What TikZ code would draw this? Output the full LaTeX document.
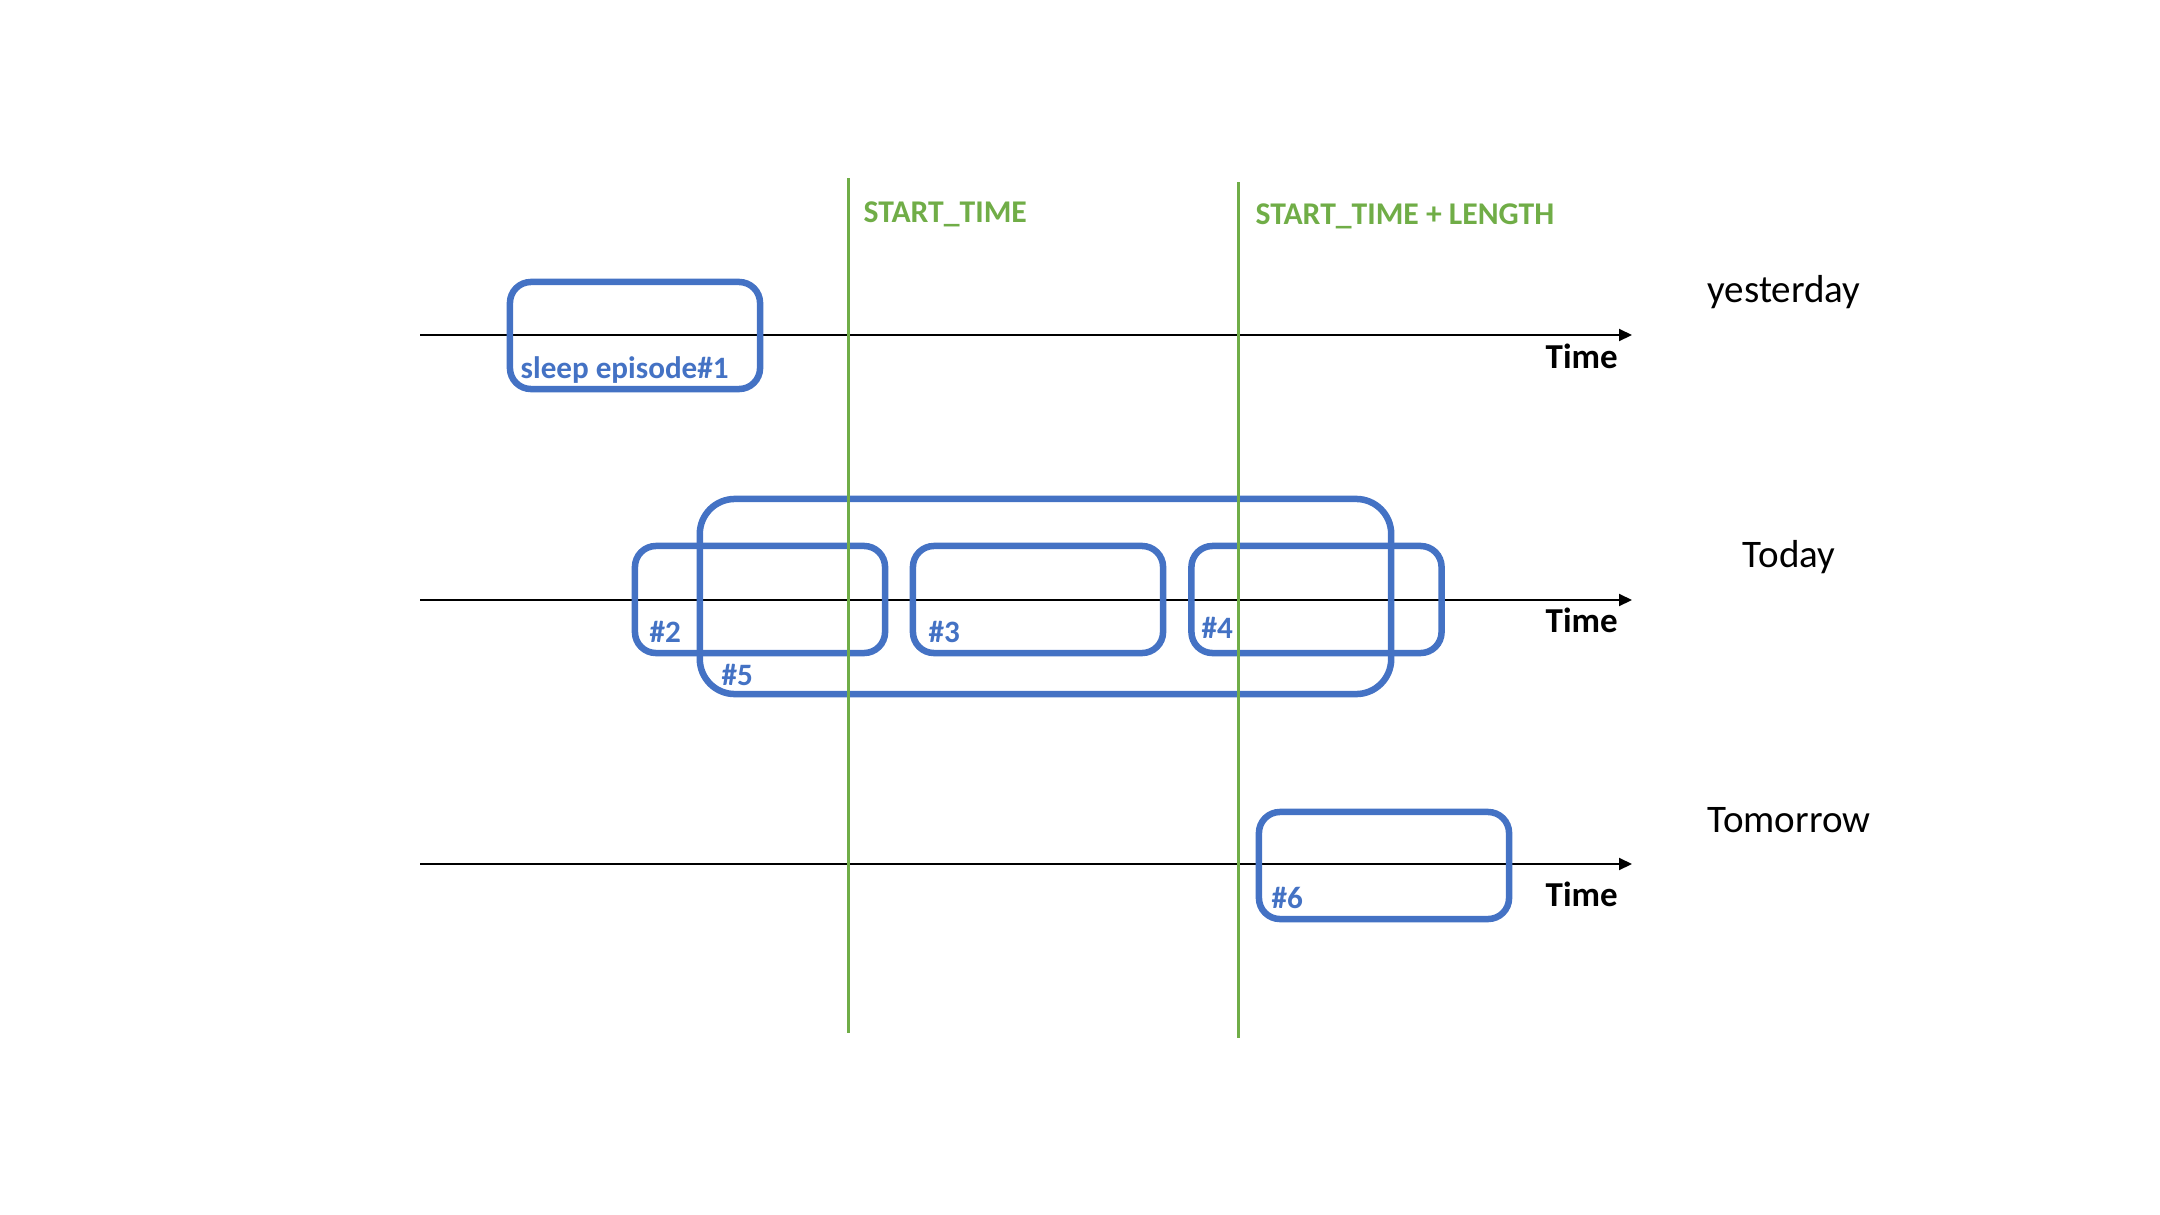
\documentclass[tikz,border=0pt]{standalone}
\usepackage{fontspec}
\setmainfont{Carlito}
\usetikzlibrary{arrows.meta}
\definecolor{epblue}{HTML}{4472C4}
\definecolor{mkgreen}{HTML}{70AD47}
\tikzset{
  axisline/.style={line width=0.02cm, -{Triangle[length=0.13cm, width=0.12cm]}},
  markline/.style={line width=0.03cm, draw=mkgreen},
  episode/.style={draw=epblue, line width=0.065cm, rounded corners=0.21cm, inner sep=0pt, minimum width=2.5cm, minimum height=1.07cm},
  bigepisode/.style={episode, rounded corners=0.35cm, minimum width=6.91cm, minimum height=1.95cm},
  eplabel/.style={anchor=base west, inner sep=0pt, text=epblue, font=\fontsize{8.85pt}{10pt}\selectfont\bfseries},
  mklabel/.style={anchor=base west, inner sep=0pt, text=mkgreen, font=\fontsize{9pt}{10pt}\selectfont\bfseries},
  timelabel/.style={anchor=base west, inner sep=0pt, font=\fontsize{9.95pt}{11pt}\selectfont\bfseries},
  daylabel/.style={anchor=base, inner sep=0pt, font=\fontsize{11.1pt}{12pt}\selectfont},
}
\begin{document}
\begin{tikzpicture}[x=0.01cm, y=-0.01cm]
\path[use as bounding box] (0,0) rectangle (2160,1215);
% axes
\coordinate (y1s) at (420,335);  \coordinate (y1e) at (1632,335);
\coordinate (y2s) at (420,600);  \coordinate (y2e) at (1632,600);
\coordinate (y3s) at (420,864);  \coordinate (y3e) at (1632,864);
\draw[axisline] (y1s) -- (y1e);
\draw[axisline] (y2s) -- (y2e);
\draw[axisline] (y3s) -- (y3e);
% episodes
\node[episode] (e1) at (635,335.5) {};
\node[bigepisode] (e5) at (1045.5,596.5) {};
\node[episode] (e2) at (760,599.5) {};
\node[episode] (e3) at (1038,599.5) {};
\node[episode] (e4) at (1316.5,599.5) {};
\node[episode] (e6) at (1384,865.5) {};
% episode labels
\node[eplabel] (l1) at (520,378) {sleep episode\#1};
\node[eplabel] (l2) at (649,642) {\#2};
\node[eplabel] (l3) at (928,642) {\#3};
\node[eplabel] (l4) at (1201,638) {\#4};
\node[eplabel] (l5) at (721,685) {\#5};
\node[eplabel] (l6) at (1271,908) {\#6};
% marker lines
\coordinate (m1t) at (848,178); \coordinate (m1b) at (848,1033);
\coordinate (m2t) at (1238,182); \coordinate (m2b) at (1238,1038);
\draw[markline] (m1t) -- (m1b);
\draw[markline] (m2t) -- (m2b);
\node[mklabel] (st) at (863,222) {START\_TIME};
\node[mklabel] (stl) at (1255,224) {START\_TIME + LENGTH};
% time labels
\node[timelabel] (t1) at (1545,368) {Time};
\node[timelabel] (t2) at (1545,632) {Time};
\node[timelabel] (t3) at (1545,906) {Time};
% day labels
\node[daylabel] (d1) at (1784,302) {yesterday};
\node[daylabel] (d2) at (1789,567) {Today};
\node[daylabel] (d3) at (1789,832) {Tomorrow};
\end{tikzpicture}
\end{document}
